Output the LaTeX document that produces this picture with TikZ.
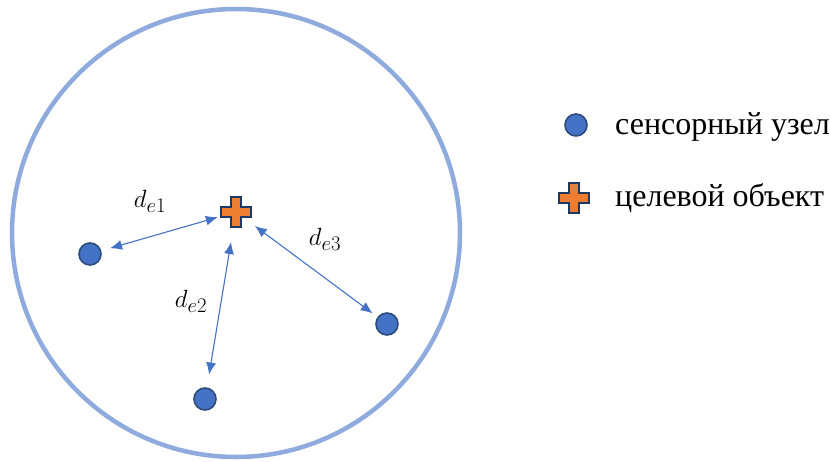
\documentclass[tikz,border=0pt]{standalone}
\usepackage{fontspec}
\setmainfont{Liberation Serif}
\usetikzlibrary{arrows.meta}
\definecolor{ringblue}{HTML}{8FAADC}
\definecolor{nodeblue}{HTML}{4472C4}
\definecolor{nodeedge}{HTML}{2F4B7C}
\definecolor{crossorange}{HTML}{ED7D31}
\definecolor{crossedge}{HTML}{203864}
\tikzset{
  sensor/.style={circle, fill=nodeblue, draw=nodeedge, line width=1.6pt, minimum size=22pt, inner sep=0pt},
  target/.style={rectangle, minimum size=34pt, inner sep=0pt,
    path picture={
      \path[fill=crossorange, draw=crossedge, line width=1.6pt]
        ([shift={(-5,-15)}]path picture bounding box.center) -- ++(10,0) -- ++(0,10) -- ++(10,0) -- ++(0,10) -- ++(-10,0) -- ++(0,10) -- ++(-10,0) -- ++(0,-10) -- ++(-10,0) -- ++(0,-10) -- ++(10,0) -- cycle;
    }},
  dist/.style={nodeblue, line width=1.1pt, {Latex[length=12pt,width=10pt]}-{Latex[length=12pt,width=10pt]}},
  lbl/.style={font=\fontsize{29}{34}\selectfont},
  legend/.style={anchor=west, font=\fontsize{32}{38}\selectfont, inner sep=0pt}
}
\begin{document}
\begin{tikzpicture}[x=1pt,y=-1pt]
\useasboundingbox (0,0) rectangle (830,461);
\node[circle, draw=ringblue, line width=4.5pt, minimum size=448pt, inner sep=0pt] (ring) at (236,233) {};
\node[sensor] (n1) at (90,254) {};
\node[sensor] (n2) at (205,399) {};
\node[sensor] (n3) at (387,324) {};
\node[target] (t) at (236,212) {};
\draw[dist, shorten <=9pt, shorten >=1pt] (n1) -- (t);
\draw[dist, shorten <=13pt, shorten >=13pt] (n2) -- (t);
\draw[dist, shorten <=6pt, shorten >=2pt] (n3) -- (t);
\node[lbl] (l1) at (150,201) {$d_{e1}$};
\node[lbl] (l2) at (191,301) {$d_{e2}$};
\node[lbl] (l3) at (325,239) {$d_{e3}$};
\node[sensor] (ls) at (576,125) {};
\node[target] (lt) at (574,198) {};
\node[legend] (ts) at (615,127) {сенсорный узел};
\node[legend] (tt) at (615,198) {целевой объект};
\end{tikzpicture}
\end{document}
